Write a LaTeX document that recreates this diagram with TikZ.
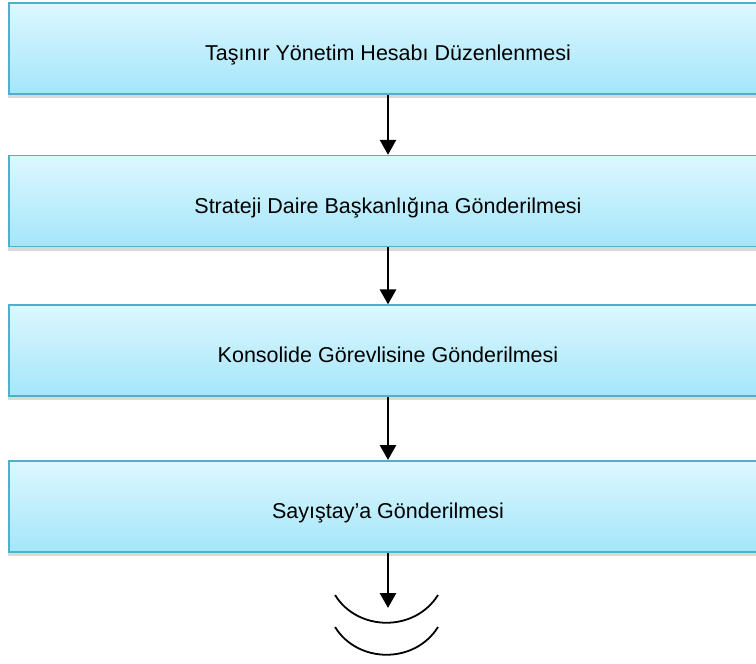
\documentclass[tikz,border=0pt]{standalone}
\usepackage{fontspec}
\setmainfont{Liberation Sans}
\usetikzlibrary{arrows.meta,positioning,shadows}
\definecolor{boxtop}{HTML}{DDF7FE}
\definecolor{boxbot}{HTML}{A4E6FA}
\definecolor{boxline}{HTML}{4FB0CB}

\begin{document}
\begin{tikzpicture}[
x=1pt,y=-1pt,
font=\fontsize{21.5}{25}\selectfont,
stepbox/.style={rectangle,draw=boxline,line width=1.6pt,top color=boxtop,bottom color=boxbot,
  minimum width=758pt,minimum height=91pt,inner sep=0pt,text height=24.5pt,text depth=0pt,
  drop shadow={shadow xshift=-1pt,shadow yshift=-4pt,opacity=0.25,fill=black!60}},
flow/.style={-{Triangle[width=16pt,length=15pt]},line width=2.8pt,black},
scale=1]
    \useasboundingbox (0,0) rectangle (756,664);

    % Boxes
    \node[stepbox] (hesap) at (388,48.5) {Taşınır Yönetim Hesabı Düzenlenmesi};
    \node[stepbox,below=60pt of hesap] (strateji) {Strateji Daire Başkanlığına Gönderilmesi};
    \node[stepbox,below=57pt of strateji] (konsolide) {Konsolide Görevlisine Gönderilmesi};
    \node[stepbox,below=63pt of konsolide] (sayistay) {Sayıştay’a Gönderilmesi};

    \coordinate (son) at (388,608);

    % Arrows
    \draw[flow] (hesap) -- (strateji);
    \draw[flow] (strateji) -- (konsolide);
    \draw[flow] (konsolide) -- (sayistay);
    \draw[flow] (sayistay) -- (son);

    % End mark
    \draw[line width=1.8pt] (335,595) .. controls (358,632) and (415,632) .. (438,595);
    \draw[line width=1.8pt] (335,627) .. controls (358,664) and (415,664) .. (438,627);

\end{tikzpicture}
\end{document}
